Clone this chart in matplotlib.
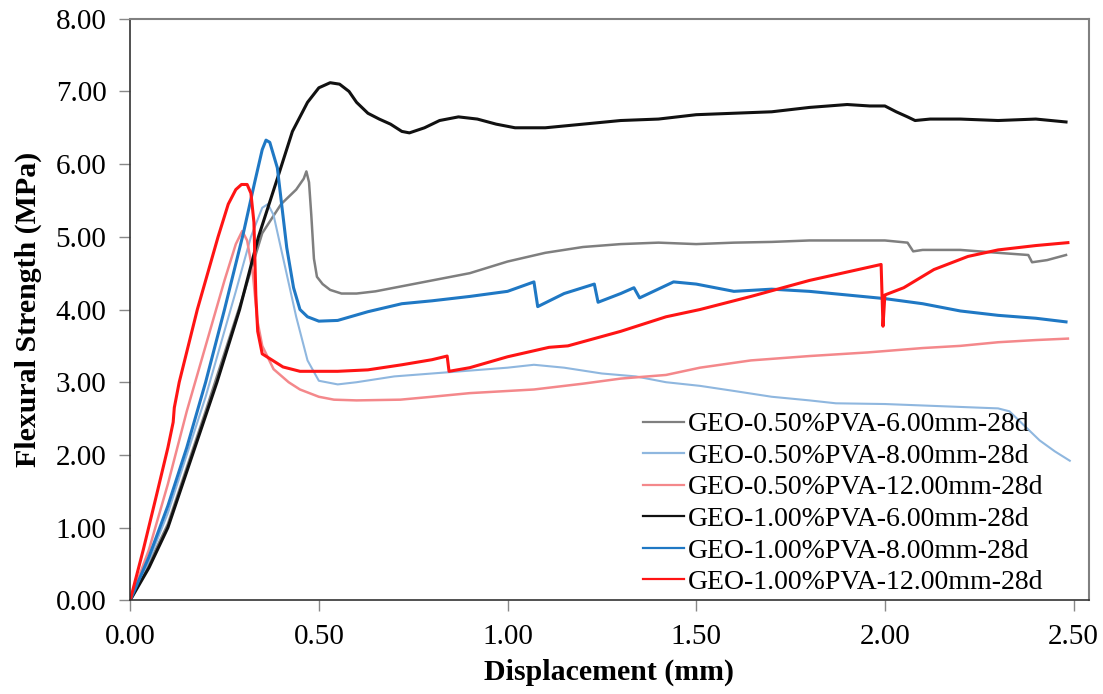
import matplotlib
matplotlib.use("Agg")
import matplotlib.pyplot as plt

# GEO-0.50%PVA-6.00mm-28d
x_g6 = [0, 0.05, 0.1, 0.2, 0.3, 0.35, 0.4, 0.44, 0.46, 0.467, 0.474, 0.48, 0.487, 0.495, 0.51, 0.53,
        0.56, 0.6, 0.65, 0.7, 0.8, 0.9, 1.0, 1.1, 1.2, 1.3, 1.4, 1.5, 1.6, 1.7, 1.8, 1.9, 2.0, 2.06,
        2.075, 2.1, 2.2, 2.3, 2.38, 2.39, 2.43, 2.48]
y_g6 = [0, 0.5, 1.05, 2.6, 4.2, 5.05, 5.45, 5.65, 5.8, 5.9, 5.75, 5.3, 4.7, 4.45, 4.35, 4.27,
        4.22, 4.22, 4.25, 4.3, 4.4, 4.5, 4.66, 4.78, 4.86, 4.9, 4.92, 4.9, 4.92, 4.93, 4.95, 4.95, 4.95, 4.92,
        4.8, 4.82, 4.82, 4.78, 4.75, 4.65, 4.68, 4.75]

# GEO-0.50%PVA-8.00mm-28d
x_g8 = [0, 0.05, 0.1, 0.2, 0.28, 0.32, 0.35, 0.365, 0.38, 0.41, 0.44, 0.47, 0.5, 0.55, 0.6, 0.7, 0.8,
        0.9, 1.0, 1.07, 1.15, 1.25, 1.34, 1.42, 1.51, 1.6, 1.7, 1.8, 1.87, 2.0, 2.1, 2.2, 2.3, 2.33,
        2.37, 2.41, 2.45, 2.49]
y_g8 = [0, 0.55, 1.2, 2.8, 4.25, 5.0, 5.4, 5.45, 5.3, 4.6, 3.9, 3.3, 3.02, 2.97, 3.0, 3.08, 3.12,
        3.16, 3.2, 3.24, 3.2, 3.12, 3.08, 3.0, 2.95, 2.88, 2.8, 2.75, 2.71, 2.7, 2.68, 2.66, 2.64, 2.6,
        2.4, 2.2, 2.05, 1.92]

# GEO-0.50%PVA-12.00mm-28d
x_g12 = [0, 0.05, 0.1, 0.15, 0.2, 0.25, 0.28, 0.297, 0.31, 0.325, 0.337, 0.35, 0.38, 0.42, 0.45, 0.5,
         0.54, 0.6, 0.716, 0.8, 0.9, 1.07, 1.2, 1.3, 1.42, 1.51, 1.645, 1.8, 1.955, 2.1, 2.2, 2.3, 2.4, 2.485]
y_g12 = [0, 0.7, 1.6, 2.6, 3.5, 4.4, 4.9, 5.08, 4.95, 4.5, 3.85, 3.5, 3.18, 3.0, 2.9, 2.8,
         2.76, 2.75, 2.76, 2.8, 2.85, 2.9, 2.98, 3.05, 3.1, 3.2, 3.3, 3.36, 3.41, 3.47, 3.5, 3.55, 3.58, 3.6]

# GEO-1.00%PVA-6.00mm-28d
x_h6 = [0, 0.05, 0.1, 0.165, 0.23, 0.29, 0.34, 0.39, 0.43, 0.47, 0.5, 0.53, 0.555, 0.58, 0.6, 0.63,
        0.66, 0.69, 0.72, 0.74, 0.78, 0.82, 0.87, 0.92, 0.97, 1.02, 1.1, 1.2, 1.3, 1.4, 1.5, 1.6, 1.7,
        1.8, 1.9, 1.96, 2.0, 2.03, 2.06, 2.08, 2.12, 2.2, 2.3, 2.4, 2.48]
y_h6 = [0, 0.45, 1.0, 2.0, 3.0, 4.0, 5.0, 5.8, 6.45, 6.85, 7.05, 7.12, 7.1, 7.0, 6.85, 6.7,
        6.62, 6.55, 6.45, 6.43, 6.5, 6.6, 6.65, 6.62, 6.55, 6.5, 6.5, 6.55, 6.6, 6.62, 6.68, 6.7, 6.72,
        6.78, 6.82, 6.8, 6.8, 6.72, 6.65, 6.6, 6.62, 6.62, 6.6, 6.62, 6.58]

# GEO-1.00%PVA-8.00mm-28d
x_h8 = [0, 0.05, 0.1, 0.15, 0.2, 0.25, 0.3, 0.33, 0.35, 0.36, 0.37, 0.39, 0.415, 0.433, 0.45, 0.47,
        0.5, 0.55, 0.63, 0.72, 0.8, 0.9, 1.0, 1.07, 1.08, 1.15, 1.23, 1.24, 1.3, 1.335, 1.35,
        1.44, 1.5, 1.6, 1.7, 1.8, 1.9, 2.0, 2.1, 2.2, 2.3, 2.4, 2.48]
y_h8 = [0, 0.6, 1.3, 2.1, 3.0, 4.0, 5.05, 5.75, 6.2, 6.33, 6.3, 5.95, 4.85, 4.3, 4.0, 3.9,
        3.84, 3.85, 3.97, 4.08, 4.12, 4.18, 4.25, 4.38, 4.04, 4.22, 4.35, 4.1, 4.22, 4.3, 4.16,
        4.38, 4.35, 4.25, 4.28, 4.25, 4.2, 4.15, 4.08, 3.98, 3.92, 3.88, 3.83]

# GEO-1.00%PVA-12.00mm-28d
x_h12 = [0, 0.035, 0.07, 0.1, 0.114, 0.117, 0.13, 0.178, 0.233, 0.26, 0.28, 0.295, 0.31, 0.32, 0.328, 0.333,
         0.338, 0.35, 0.405, 0.45, 0.55, 0.63, 0.72, 0.8, 0.84, 0.845, 0.9, 1.0, 1.11, 1.16, 1.3, 1.42,
         1.51, 1.645, 1.8, 1.99, 1.995, 2.0, 2.05, 2.13, 2.22, 2.3, 2.4, 2.485]
y_h12 = [0, 0.7, 1.45, 2.1, 2.45, 2.65, 3.0, 4.0, 5.0, 5.45, 5.65, 5.72, 5.72, 5.6, 5.2, 4.2,
         3.7, 3.39, 3.21, 3.15, 3.15, 3.17, 3.24, 3.31, 3.36, 3.15, 3.2, 3.35, 3.48, 3.5, 3.7, 3.9,
         4.0, 4.18, 4.4, 4.62, 3.77, 4.2, 4.3, 4.55, 4.73, 4.82, 4.88, 4.92]

labels = ["GEO-0.50%PVA-6.00mm-28d", "GEO-0.50%PVA-8.00mm-28d", "GEO-0.50%PVA-12.00mm-28d",
          "GEO-1.00%PVA-6.00mm-28d", "GEO-1.00%PVA-8.00mm-28d", "GEO-1.00%PVA-12.00mm-28d"]
colors = ["#7f7f7f", "#8fb7df", "#f4888b", "#111111", "#1f78c4", "#ff1414"]
widths = [1.8, 1.5, 1.8, 2.2, 2.2, 2.2]
xs_all = [x_g6, x_g8, x_g12, x_h6, x_h8, x_h12]
ys_all = [y_g6, y_g8, y_g12, y_h6, y_h8, y_h12]

plt.rcParams['font.family'] = ['Liberation Serif', 'DejaVu Serif']

fig = plt.figure(figsize=(11.03, 6.94), dpi=100)
ax = fig.add_axes([0.118, 0.135, 0.869, 0.838])

for xs, ys, lab, col, lw in zip(xs_all, ys_all, labels, colors, widths):
    ax.plot(xs, ys, color=col, lw=lw, label=lab)

xt = [0, 0.5, 1.0, 1.5, 2.0, 2.5]
ax.set_xlim(0, 2.54)
ax.set_ylim(0, 8)
ax.set_xticks(xt)
ax.set_yticks(range(0, 9))
ax.set_xticklabels(["%.2f" % v for v in xt])
ax.set_yticklabels(["%.2f" % v for v in range(0, 9)])
ax.tick_params(direction='out', length=8, width=1, color='#888888', labelsize=21, pad=9)

for side in ['top', 'right']:
    ax.spines[side].set_color('#808080')
    ax.spines[side].set_linewidth(1.5)
for side in ['left', 'bottom']:
    ax.spines[side].set_color('#333333')
    ax.spines[side].set_linewidth(1.2)

ax.set_xlabel("Displacement (mm)", fontsize=21.5, fontweight='bold', labelpad=6)
ax.set_ylabel("Flexural Strength (MPa)", fontsize=21.5, fontweight='bold', labelpad=10)

leg = ax.legend(loc='upper left', bbox_to_anchor=(0.5355, 0.324), frameon=False, fontsize=20,
                handlelength=1.45, handletextpad=0.15, labelspacing=0.22, borderpad=0,
                borderaxespad=0)
for h in leg.get_lines():
    h.set_linewidth(1.6)

fig.savefig("out.png", dpi=100)
